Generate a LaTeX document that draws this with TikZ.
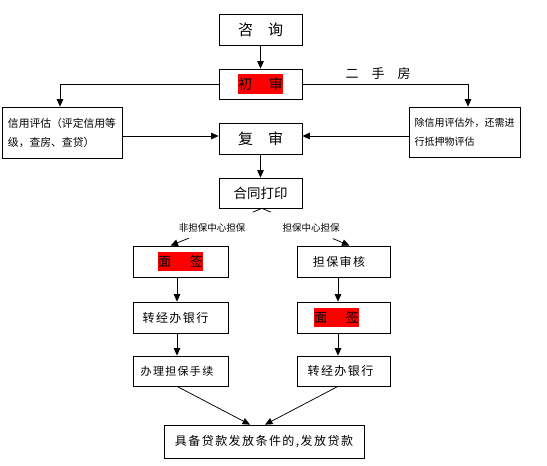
\documentclass[tikz,border=0pt]{standalone}
\usepackage{fontspec}
\setmainfont{Noto Sans CJK SC}
\newfontfamily\cjksp[LetterSpace=12]{Noto Sans CJK SC}
\usetikzlibrary{arrows.meta,calc}
\setlength{\fboxsep}{0pt}
\newcommand{\redhl}[1]{\colorbox{red}{\rule[-4.5pt]{0pt}{19.5pt}#1}}
\begin{document}
\begin{tikzpicture}[x=1pt,y=-1pt, line width=0.75pt,
  box/.style={draw, rectangle, inner sep=0pt, align=center},
  arr/.style={-{Triangle[width=6.5pt,length=7.5pt]}},
  lbl/.style={inner sep=0pt, font=\fontsize{9.5}{9.5}\selectfont}]
\useasboundingbox (0,0) rectangle (547,466);
\fill[white] (0,0) rectangle (547,466);
\node[box, minimum width=83pt, minimum height=31pt, font=\fontsize{15}{15}\selectfont] (zixun) at (260.5,29.5) {咨\hspace{15pt}询};
\node[box, minimum width=83pt, minimum height=30pt, font=\fontsize{14}{14}\selectfont] (chushen) at (260.5,84) {\redhl{初\hspace{17pt}审}};
\node[box, minimum width=120pt, minimum height=51pt, align=left, font=\fontsize{10.8}{19}\selectfont] (credit) at (62,132.5) {信用评估（评定信用等\\级，查房、查贷）};
\node[box, minimum width=111pt, minimum height=50pt, align=left, font=\fontsize{10}{19}\selectfont] (collat) at (464.5,132) {除信用评估外，还需进\\行抵押物评估};
\node[box, minimum width=83pt, minimum height=31pt, font=\fontsize{15}{15}\selectfont] (fushen) at (260.5,138.5) {复\hspace{15pt}审};
\node[box, minimum width=83pt, minimum height=30pt, font=\fontsize{13.5}{13.5}\selectfont] (hetong) at (260.5,193) {合同打印};
\node[lbl] (esf) at (378,73.5) {\fontsize{13}{13}\selectfont 二\hspace{13pt}手\hspace{13pt}房};
\node[box, minimum width=95pt, minimum height=31pt, font=\fontsize{13}{13}\selectfont] (L1) at (180.5,261.5) {\redhl{面\hspace{19pt}签}};
\node[box, minimum width=93pt, minimum height=31pt, font=\fontsize{12}{12}\selectfont] (R1) at (343.5,261.5) {{\cjksp 担保审核}\hspace*{9pt}};
\node[box, minimum width=95pt, minimum height=31pt, font=\fontsize{12}{12}\selectfont] (L2) at (180.5,317.5) {{\cjksp 转经办银行}\hspace*{10pt}};
\node[box, minimum width=93pt, minimum height=31pt, font=\fontsize{13}{13}\selectfont] (R2) at (343.5,317.5) {\redhl{面\hspace{19pt}签}\hspace*{14pt}};
\node[box, minimum width=95pt, minimum height=30pt, font=\fontsize{11}{11}\selectfont] (L3) at (180.5,371) {{\cjksp 办理担保手续}\hspace*{7pt}};
\node[box, minimum width=93pt, minimum height=30pt, font=\fontsize{12}{12}\selectfont] (R3) at (343.5,371) {{\cjksp 转经办银行}\hspace*{6pt}};
\node[box, minimum width=200pt, minimum height=33pt, font=\fontsize{12}{12}\selectfont] (final) at (264,441.5) {{\cjksp 具备贷款发放条件的,发放贷款}};
\node[lbl] (nlab) at (212,228) {非担保中心担保};
\node[lbl] (ylab) at (311,228) {担保中心担保};
% connectors
\draw[arr] (zixun) -- (chushen);
\draw[arr] (chushen.west) -| ([xshift=-2pt]credit.north);
\draw[arr] (chushen.east) -| ([xshift=3.5pt]collat.north);
\draw[arr] ([yshift=2.5pt]fushen.west -| credit.east) -- ([yshift=2.5pt]fushen.west);
\draw[arr] ([yshift=2.5pt]fushen.east -| collat.west) -- ([yshift=2.5pt]fushen.east);
\draw[arr] (fushen) -- (hetong);
\coordinate (tl) at ([xshift=-10pt]L1.north);
\coordinate (tr) at ([xshift=6pt]R1.north);
\coordinate (top) at ([xshift=1.5pt]hetong.south);
\draw (top) -- ($(top)!0.1!(tl)$);
\draw[arr] ($(top)!0.8!(tl)$) -- (tl);
\draw (top) -- ($(top)!0.1!(tr)$);
\draw[arr] ($(top)!0.81!(tr)$) -- (tr);
\draw[arr] ([xshift=-3.5pt]L1.south) -- ([xshift=-3.5pt]L2.north);
\draw[arr] ([xshift=-3.5pt]L2.south) -- ([xshift=-3.5pt]L3.north);
\draw[arr] ([xshift=-5.5pt]R1.south) -- ([xshift=-5.5pt]R2.north);
\draw[arr] ([xshift=-5.5pt]R2.south) -- ([xshift=-5.5pt]R3.north);
\draw[arr] ([xshift=-3.5pt]L3.south) -- ([xshift=-14pt]final.north);
\draw[arr] ([xshift=-5.5pt]R3.south) -- ([xshift=1pt]final.north);
\end{tikzpicture}
\end{document}
